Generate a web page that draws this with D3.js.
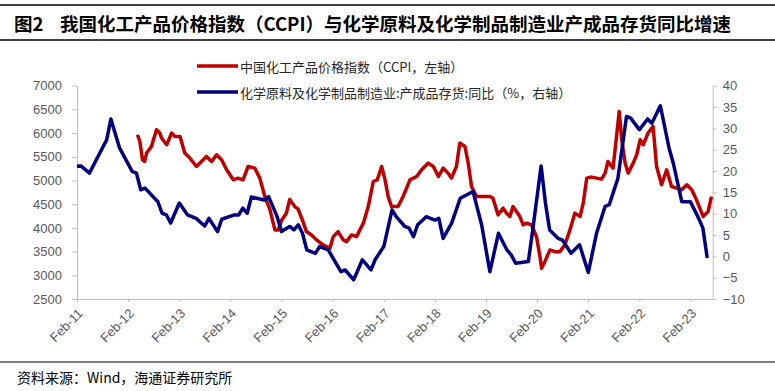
<!DOCTYPE html>
<html>
<head>
<meta charset="utf-8">
<script src="https://cdn.jsdelivr.net/npm/d3@7"></script>
<style>
  body { margin: 0; background: #fff; }
  svg { display: block; }
  .cjk { font-family: "Noto Sans CJK SC", sans-serif; }
</style>
</head>
<body>
<svg id="chart" width="775" height="391"></svg>
<script>
// CCPI (left axis)
const redDates = [
  "2012-04-08","2012-04-25","2012-05-14","2012-05-30","2012-06-12","2012-07-17","2012-08-22","2012-09-15","2012-09-27",
  "2012-11-03","2012-12-08","2013-01-01","2013-02-06","2013-03-12","2013-04-17","2013-06-04","2013-07-09","2013-08-14",
  "2013-09-20","2013-10-25","2013-11-30","2014-01-05","2014-02-22","2014-03-27","2014-05-02","2014-06-08","2014-07-25",
  "2014-08-30","2014-10-05","2014-11-11","2014-12-16","2015-01-09","2015-02-03","2015-03-08","2015-04-01","2015-05-07",
  "2015-05-30","2015-07-05","2015-07-29","2015-09-04","2015-10-09","2015-11-26","2016-01-13","2016-02-06","2016-03-11",
  "2016-04-17","2016-05-11","2016-06-16","2016-07-21","2016-09-08","2016-10-13","2016-11-18","2016-12-16","2017-01-17",
  "2017-02-10","2017-03-04","2017-03-28","2017-05-14","2017-06-19","2017-08-07","2017-09-24","2017-10-29","2017-12-16",
  "2018-01-21","2018-02-26","2018-04-01","2018-05-06","2018-05-30","2018-07-05","2018-07-29","2018-09-04","2018-09-27",
  "2018-10-21","2018-11-26","2019-01-13","2019-03-01","2019-03-23","2019-04-28","2019-06-04","2019-06-28","2019-07-22",
  "2019-08-13","2019-09-07","2019-10-01","2019-10-25","2019-11-19","2019-12-24","2020-01-28","2020-02-22","2020-03-04",
  "2020-03-28","2020-05-03","2020-06-07","2020-07-13","2020-08-18","2020-09-23","2020-10-28","2020-12-04","2020-12-27",
  "2021-01-21","2021-02-26","2021-04-01","2021-05-07","2021-06-01","2021-06-22","2021-07-28","2021-08-22","2021-09-10",
  "2021-09-28","2021-10-22","2021-11-13","2021-12-19","2022-01-13","2022-02-07","2022-03-01","2022-04-04","2022-05-10",
  "2022-06-04","2022-07-10","2022-08-15","2022-09-19","2022-10-25","2022-12-01","2023-01-06","2023-02-10","2023-03-16",
  "2023-05-03","2023-06-07","2023-07-01"
];
const redValues = [
  5965,5824,5437,5401,5579,5718,6071,6001,5896,
  5754,6001,5929,5929,5579,5473,5296,5401,5507,
  5401,5543,5437,5226,5014,5050,5014,5296,5262,
  5050,4662,4381,3958,3958,4169,4311,4600,4450,
  4400,4130,3922,3852,3747,3641,3571,3816,3922,
  3747,3711,3852,3816,4100,4450,4979,5014,5296,
  5014,4662,4450,4450,4662,5014,5084,5226,5367,
  5296,5084,5262,5156,5050,5296,5790,5718,5367,
  4873,4662,4662,4662,4628,4275,4417,4311,4239,
  4450,4345,4239,4064,4100,4064,3816,3394,3149,
  3288,3535,3499,3499,3641,3958,4311,4239,4522,
  5050,5072,5050,5029,5156,5401,5262,5929,6458,
  5860,5367,5156,5367,5543,5860,5754,6001,6141,
  5296,4909,5226,4873,4839,4803,4909,4803,4592,
  4239,4345,4662
];

// 产成品存货同比 (right axis, %)
const blueDates = [
  "2011-02","2011-03","2011-05","2011-07","2011-09","2011-10","2011-12","2012-03","2012-04","2012-05","2012-06",
  "2012-09","2012-10","2012-11","2012-12","2013-02","2013-04","2013-06","2013-08","2013-09","2013-11","2013-12",
  "2014-03","2014-04","2014-05","2014-06","2014-07","2014-10","2014-11","2015-01","2015-02","2015-04","2015-05",
  "2015-06","2015-07","2015-08","2015-10","2015-11","2016-01","2016-04","2016-05","2016-07","2016-09","2016-11",
  "2016-12","2017-02","2017-04","2017-05","2017-07","2017-08","2017-09","2017-10","2017-12","2018-02","2018-03",
  "2018-04","2018-06","2018-08","2018-11","2018-12","2019-01","2019-03","2019-05","2019-07","2019-08","2019-09",
  "2019-12","2020-01","2020-03","2020-04","2020-05","2020-07","2020-08","2020-10","2020-12","2021-02","2021-04",
  "2021-06","2021-07","2021-09","2021-11","2021-12","2022-02","2022-04","2022-05","2022-07","2022-09","2022-10",
  "2022-12","2023-02","2023-04","2023-05","2023-06"
];
const blueValues = [
  21.1,21.2,19.5,23.4,27.3,32.2,25.5,19.9,19.5,15.6,16.0,
  12.8,10.1,9.7,7.8,12.5,9.7,8.9,7.1,8.9,5.8,8.7,
  9.7,9.7,11.3,10.1,13.9,13.2,14.0,9.3,5.8,7.0,6.2,
  7.4,5.4,1.5,0.7,2.3,1.5,-3.6,-3.2,-5.5,-0.8,-3.2,
  -0.8,2.3,10.9,9.3,7.0,6.6,4.6,7.4,9.3,8.5,8.9,
  4.2,7.8,13.6,15.2,11.3,7.4,-3.6,5.4,1.5,0.3,-1.6,
  -1.2,6.2,21.2,12.5,6.2,4.2,3.8,0.7,2.7,-3.8,5.4,
  11.7,12.1,18.3,32.8,32.4,29.7,32.2,31.2,35.3,25.4,21.9,
  12.8,12.8,8.9,6.6,-0.4
];

const leftTicks = [2500, 3000, 3500, 4000, 4500, 5000, 5500, 6000, 6500, 7000];
const rightTicks = [-10, -5, 0, 5, 10, 15, 20, 25, 30, 35, 40];
const xTickYears = [2011, 2012, 2013, 2014, 2015, 2016, 2017, 2018, 2019, 2020, 2021, 2022, 2023];

const titleNo = "图2";
const titleText = "我国化工产品价格指数（CCPI）与化学原料及化学制品制造业产成品存货同比增速";
const redName = "中国化工产品价格指数（CCPI，左轴）";
const blueName = "化学原料及化学制品制造业:产成品存货:同比（%，右轴）";
const sourceText = "资料来源：Wind，海通证券研究所";

const RED = "#c00000", BLUE = "#000080", AXIS = "#bfbfbf", LABEL = "#595959";
const LATIN = '"Liberation Sans", Arial, sans-serif';

const svg = d3.select("#chart");
const plot = { left: 77, right: 712.7, top: 85.7, bottom: 299 };

const parseDay = d3.timeParse("%Y-%m-%d");
const parseMonth = d3.timeParse("%Y-%m");
const red = redDates.map((d, i) => ({ date: parseDay(d), value: redValues[i] }));
const blue = blueDates.map((d, i) => ({ date: parseMonth(d), value: blueValues[i] }));

const x = d3.scaleTime()
  .domain([new Date(2011, 1, 1), new Date(2023, 6, 10)])
  .range([plot.left, plot.right]);
const yL = d3.scaleLinear().domain([2500, 7000]).range([plot.bottom, plot.top]);
const yR = d3.scaleLinear().domain([-10, 40]).range([plot.bottom, plot.top]);

// frame lines, title, source
svg.append("line").attr("x1", 0).attr("x2", 775).attr("y1", 5).attr("y2", 5)
  .attr("stroke", "#000").attr("stroke-width", 1.5);
svg.append("line").attr("x1", 0).attr("x2", 775).attr("y1", 40).attr("y2", 40)
  .attr("stroke", "#000").attr("stroke-width", 1.5);
svg.append("text").attr("class", "cjk")
  .attr("x", 14).attr("y", 23).attr("dominant-baseline", "central")
  .attr("font-size", 18.5).attr("font-weight", 700).attr("fill", "#000")
  .text(titleNo);
svg.append("text").attr("class", "cjk")
  .attr("x", 60).attr("y", 23).attr("dominant-baseline", "central")
  .attr("font-size", 18.5).attr("font-weight", 700).attr("fill", "#000")
  .text(titleText);

svg.append("line").attr("x1", 0).attr("x2", 775).attr("y1", 362).attr("y2", 362)
  .attr("stroke", "#000").attr("stroke-width", 1.2);
svg.append("text").attr("class", "cjk")
  .attr("x", 17).attr("y", 377).attr("dominant-baseline", "central")
  .attr("font-size", 14).attr("fill", "#000")
  .text(sourceText);

// axes
const styleAxis = (g) => {
  g.attr("font-family", LATIN);
  g.selectAll(".domain, .tick line").attr("stroke", AXIS);
  g.selectAll(".tick text").attr("fill", LABEL).attr("font-size", 13);
};

svg.append("g")
  .attr("transform", `translate(${plot.left},0)`)
  .call(d3.axisLeft(yL).tickValues(leftTicks).tickFormat(d3.format("d"))
    .tickSize(5).tickSizeOuter(0).tickPadding(10))
  .call(styleAxis);

svg.append("g")
  .attr("transform", `translate(${plot.right},0)`)
  .call(d3.axisRight(yR).tickValues(rightTicks).tickFormat(d3.format("d"))
    .tickSize(4).tickSizeOuter(0).tickPadding(6))
  .call(styleAxis);

svg.append("g")
  .attr("transform", `translate(0,${plot.bottom})`)
  .call(d3.axisBottom(x)
    .tickValues(xTickYears.map((y) => new Date(y, 1, 1)))
    .tickFormat(d3.timeFormat("Feb-%y"))
    .tickSize(3).tickSizeOuter(0))
  .call(styleAxis)
  .call((g) => g.selectAll(".tick text")
    .attr("x", 0).attr("y", 0).attr("dy", "0.35em")
    .attr("text-anchor", "end")
    .attr("transform", "translate(3,12) rotate(-45)"));

// series
const redLine = d3.line().x((d) => x(d.date)).y((d) => yL(d.value));
const blueLine = d3.line().x((d) => x(d.date)).y((d) => yR(d.value));

svg.append("path").datum(red)
  .attr("fill", "none").attr("stroke", RED).attr("stroke-width", 3.5)
  .attr("stroke-linejoin", "round").attr("d", redLine);
svg.append("path").datum(blue)
  .attr("fill", "none").attr("stroke", BLUE).attr("stroke-width", 3.5)
  .attr("stroke-linejoin", "round").attr("d", blueLine);

// legend
const legend = [
  { name: redName, color: RED, y: 66 },
  { name: blueName, color: BLUE, y: 92 },
];
const lg = svg.append("g").selectAll("g").data(legend).join("g")
  .attr("transform", (d) => `translate(197,${d.y})`);
lg.append("line").attr("x1", 0).attr("x2", 41)
  .attr("stroke", (d) => d.color).attr("stroke-width", 3.5);
lg.append("text").attr("class", "cjk")
  .attr("x", 43).attr("dominant-baseline", "central")
  .attr("font-size", 13).attr("fill", "#262626")
  .text((d) => d.name);
</script>
</body>
</html>
